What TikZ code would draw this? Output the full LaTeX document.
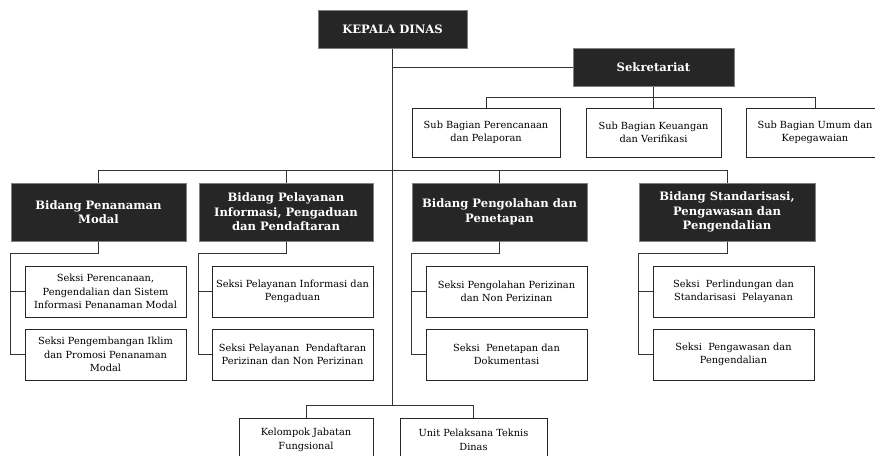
\documentclass[tikz,border=0pt]{standalone}
\usepackage{fontspec}
\setmainfont{DejaVu Serif}
\usetikzlibrary{positioning, calc}
\definecolor{boxdark}{RGB}{38,38,38}

\begin{document}
\begin{tikzpicture}[x=1pt, y=-1pt,
		head/.style={draw=black!50, line width=1pt, fill=boxdark, text=white,
			font=\fontsize{11.6}{14.5}\selectfont\bfseries, align=center, inner sep=0pt},
		unit/.style={draw=black!85, line width=0.9pt, fill=white,
			font=\fontsize{9.8}{13.5}\selectfont, align=center, inner sep=0pt},
		size/.style 2 args={minimum width=#1, minimum height=#2},
		link/.style={draw=black!80, line width=1pt}]
	\useasboundingbox (0,0) rectangle (875,455);

	% pimpinan dan sekretariat
	\node[head, size={149pt}{38pt}] (kepala) at (392.5,29) {KEPALA DINAS};
	\node[head, size={161pt}{38pt}] (sekretariat) at (653.5,67) {Sekretariat};
	\node[unit, size={148pt}{49pt}] (subA) at (486,132.5) {Sub Bagian Perencanaan\\dan Pelaporan};
	\node[unit, size={135pt}{49pt}] (subB) at (653.5,132.5) {Sub Bagian Keuangan\\dan Verifikasi};
	\node[unit, size={138pt}{49pt}] (subC) at (815,132.5) {Sub Bagian Umum dan\\Kepegawaian};

	% bidang
	\node[head, size={175pt}{58pt}] (bidA) at (98.5,212) {Bidang Penanaman\\Modal};
	\node[head, size={174pt}{58pt}] (bidB) at (286,212) {Bidang Pelayanan\\Informasi, Pengaduan\\dan Pendaftaran};
	\node[head, size={175pt}{58pt}] (bidC) at (499.5,212) {Bidang Pengolahan dan\\Penetapan};
	\node[head, size={176pt}{58pt}] (bidD) at (727,212) {Bidang Standarisasi,\\Pengawasan dan\\Pengendalian};

	% seksi
	\node[unit, size={161pt}{51pt}] (sekA1) at (105.5,291.5) {Seksi Perencanaan,\\Pengendalian dan Sistem\\Informasi Penanaman Modal};
	\node[unit, size={161pt}{51pt}] (sekA2) at (105.5,354.5) {Seksi Pengembangan Iklim\\dan Promosi Penanaman\\Modal};
	\node[unit, size={161pt}{51pt}] (sekB1) at (292.5,291.5) {Seksi Pelayanan Informasi dan\\Pengaduan};
	\node[unit, size={161pt}{51pt}] (sekB2) at (292.5,354.5) {Seksi Pelayanan~ Pendaftaran\\Perizinan dan Non Perizinan};
	\node[unit, size={161pt}{51pt}] (sekC1) at (506.5,291.5) {Seksi Pengolahan Perizinan\\dan Non Perizinan};
	\node[unit, size={161pt}{51pt}] (sekC2) at (506.5,354.5) {Seksi~ Penetapan dan\\Dokumentasi};
	\node[unit, size={161pt}{51pt}] (sekD1) at (733.5,291.5) {Seksi~ Perlindungan dan\\Standarisasi~ Pelayanan};
	\node[unit, size={161pt}{51pt}] (sekD2) at (733.5,354.5) {Seksi~ Pengawasan dan\\Pengendalian};

	% kelompok dan UPT
	\node[unit, size={134pt}{44pt}] (jafung) at (306,440) {Kelompok Jabatan\\Fungsional};
	\node[unit, size={147pt}{44pt}] (upt) at (473.5,440) {Unit Pelaksana Teknis\\Dinas};

	% garis komando
	\coordinate (ujung) at (392.5,405);
	\draw[link] (kepala.south) -- (ujung);
	\draw[link] (kepala.south |- sekretariat.west) -- (sekretariat.west);
	\draw[link] (sekretariat.south) -- (sekretariat.south |- 0,97);
	\draw[link] (subA.north) |- (0,97 -| subC.north) -- (subC.north);
	\draw[link] (subB.north) -- (subB.north |- 0,97);
	\draw[link] (bidA.north) |- (0,170 -| bidD.north) -- (bidD.north);
	\draw[link] (bidB.north) -- (bidB.north |- 0,170);
	\draw[link] (bidC.north) -- (bidC.north |- 0,170);
	\draw[link] (jafung.north) |- (0,405 -| upt.north) -- (upt.north);

	% garis ke seksi
	\foreach \b in {A,B,C,D}{
		\draw[link] (bid\b.south) -- (bid\b.south |- 0,253) -| (bid\b.south west |- sek\b2.west) -- (sek\b2.west);
		\draw[link] (bid\b.south west |- sek\b1.west) -- (sek\b1.west);
	}
\end{tikzpicture}
\end{document}
